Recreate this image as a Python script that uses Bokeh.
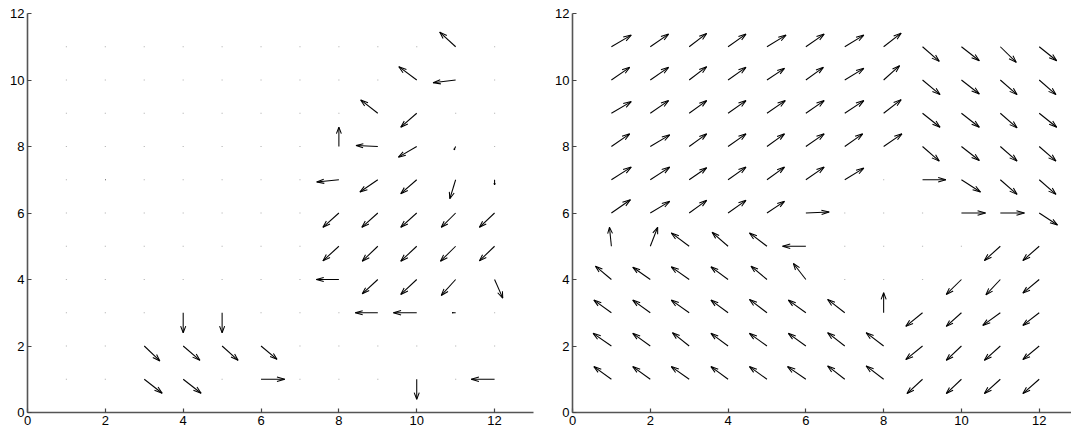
import numpy as np
from bokeh.plotting import figure
from bokeh.layouts import row
from bokeh.models import Range1d, FixedTicker
from bokeh.embed import file_html
from bokeh.resources import INLINE

# grid positions
GX = list(range(1, 13))   # x = 1..12
GY = list(range(1, 12))   # y = 1..11

# ---- left panel vectors: rows y=1..11, columns x=1..12 ----
U_LEFT = [
    [0, 0, 0.46, 0.46, 0, 0.61, 0, 0, 0, 0, 0, -0.60],            # y=1
    [0, 0, 0.40, 0.43, 0.41, 0.41, 0, 0, 0, 0, 0, 0],             # y=2
    [0, 0, 0, 0, 0, 0, 0, 0, -0.58, -0.60, -0.09, 0],             # y=3
    [0, 0, 0, 0, 0, 0, 0, -0.58, -0.40, -0.41, -0.37, 0.21],      # y=4
    [0, 0, 0, 0, 0, 0, 0, -0.41, -0.40, -0.41, -0.39, -0.39],     # y=5
    [0, 0, 0, 0, 0, 0, 0, -0.41, -0.41, -0.41, -0.37, -0.39],     # y=6
    [0, 0.01, 0, 0, 0, 0, 0, -0.57, -0.46, -0.41, -0.15, 0],      # y=7
    [0, 0, 0, 0, 0, 0, 0, 0, -0.56, -0.47, -0.04, 0],             # y=8
    [0, 0, 0, 0, 0, 0, 0, 0, -0.44, -0.41, 0, 0],                 # y=9
    [0, 0, 0, 0, 0, 0, 0, 0, 0, -0.46, -0.58, 0],                 # y=10
    [0, 0, 0, 0, 0, 0, 0, 0, 0, 0, -0.41, 0],                     # y=11
]
V_LEFT = [
    [0, 0, -0.42, -0.42, 0, 0, 0, 0, 0, -0.60, 0, 0],             # y=1
    [0, 0, -0.45, -0.43, -0.43, -0.40, 0, 0, 0, 0, 0, 0],         # y=2
    [0, 0, 0, -0.60, -0.60, 0, 0, 0, 0, 0, 0, 0],                 # y=3
    [0, 0, 0, 0, 0, 0, 0, 0, -0.43, -0.45, -0.48, -0.56],         # y=4
    [0, 0, 0, 0, 0, 0, 0, -0.44, -0.45, -0.45, -0.45, -0.44],     # y=5
    [0, 0, 0, 0, 0, 0, 0, -0.43, -0.43, -0.43, -0.43, -0.43],     # y=6
    [0, 0, 0, 0, 0, 0, 0, -0.07, -0.37, -0.42, -0.57, -0.15],     # y=7
    [0, 0, 0, 0, 0, 0, 0, 0.58, 0.03, -0.32, -0.10, 0],           # y=8
    [0, 0, 0, 0, 0, 0, 0, 0, 0.40, -0.42, 0, 0],                  # y=9
    [0, 0, 0, 0, 0, 0, 0, 0, 0, 0.40, -0.08, 0],                  # y=10
    [0, 0, 0, 0, 0, 0, 0, 0, 0, 0, 0.44, 0],                      # y=11
]

# ---- right panel vectors ----
U_RIGHT = [
    [-0.45, -0.45, -0.46, -0.44, -0.45, -0.47, -0.44, -0.45, -0.40, -0.39, -0.41, -0.42],  # y=1
    [-0.47, -0.45, -0.43, -0.44, -0.45, -0.45, -0.44, -0.45, -0.43, -0.39, -0.41, -0.42],  # y=2
    [-0.45, -0.45, -0.46, -0.44, -0.45, -0.45, -0.44, 0, -0.43, -0.39, -0.45, -0.42],      # y=3
    [-0.41, -0.45, -0.46, -0.44, -0.41, -0.32, 0, 0, 0, -0.39, -0.37, -0.42],              # y=4
    [-0.05, 0.19, -0.46, -0.41, -0.45, -0.60, 0, 0, 0, 0, -0.41, -0.42],                   # y=5
    [0.49, 0.50, 0.45, 0.46, 0.45, 0.60, 0, 0, 0, 0.62, 0.62, 0.47],                       # y=6
    [0.51, 0.50, 0.45, 0.46, 0.45, 0.47, 0.49, 0, 0.60, 0.49, 0.43, 0.43],                 # y=7
    [0.47, 0.50, 0.45, 0.46, 0.45, 0.47, 0.46, 0.47, 0.43, 0.46, 0.43, 0.43],              # y=8
    [0.51, 0.47, 0.45, 0.46, 0.47, 0.47, 0.49, 0.45, 0.45, 0.46, 0.43, 0.45],              # y=9
    [0.47, 0.47, 0.45, 0.46, 0.45, 0.45, 0.49, 0.41, 0.45, 0.46, 0.43, 0.43],              # y=10
    [0.51, 0.47, 0.45, 0.46, 0.49, 0.47, 0.49, 0.45, 0.43, 0.46, 0.41, 0.45],              # y=11
]
V_RIGHT = [
    [0.38, 0.38, 0.38, 0.38, 0.38, 0.38, 0.40, 0.40, -0.43, -0.43, -0.43, -0.43],          # y=1
    [0.38, 0.38, 0.40, 0.38, 0.38, 0.38, 0.40, 0.40, -0.41, -0.43, -0.43, -0.41],          # y=2
    [0.38, 0.38, 0.38, 0.38, 0.40, 0.38, 0.40, 0.60, -0.41, -0.41, -0.38, -0.38],          # y=3
    [0.40, 0.37, 0.38, 0.38, 0.40, 0.48, 0, 0, 0, -0.45, -0.46, -0.41],                    # y=4
    [0.57, 0.57, 0.40, 0.42, 0.40, 0, 0, 0, 0, 0, -0.43, -0.43],                           # y=5
    [0.40, 0.35, 0.38, 0.38, 0.35, 0.03, 0, 0, 0, 0, 0, -0.36],                            # y=6
    [0.38, 0.38, 0.36, 0.38, 0.38, 0.38, 0.35, 0, 0, -0.37, -0.44, -0.44],                 # y=7
    [0.38, 0.35, 0.38, 0.38, 0.38, 0.38, 0.38, 0.38, -0.44, -0.42, -0.44, -0.44],          # y=8
    [0.35, 0.38, 0.38, 0.38, 0.38, 0.38, 0.38, 0.41, -0.42, -0.42, -0.44, -0.42],          # y=9
    [0.38, 0.38, 0.40, 0.38, 0.35, 0.38, 0.35, 0.43, -0.44, -0.42, -0.44, -0.44],          # y=10
    [0.35, 0.38, 0.40, 0.38, 0.35, 0.38, 0.35, 0.41, -0.44, -0.42, -0.47, -0.42],          # y=11
]

TICKS = [0, 2, 4, 6, 8, 10, 12]
FONT = "Liberation Sans"


def quiver_segments(U, V, alpha=0.33, beta=0.33):
    X, Y = np.meshgrid(GX, GY)
    U = np.asarray(U, float)
    V = np.asarray(V, float)
    x, y, u, v = X.ravel(), Y.ravel(), U.ravel(), V.ravel()
    nz = (u != 0) | (v != 0)
    xs, ys = [], []
    for xi, yi, ui, vi in zip(x[nz], y[nz], u[nz], v[nz]):
        xs.append([xi, xi + ui])
        ys.append([yi, yi + vi])
        xs.append([xi + ui - alpha * (ui + beta * vi), xi + ui,
                   xi + ui - alpha * (ui - beta * vi)])
        ys.append([yi + vi - alpha * (vi - beta * ui), yi + vi,
                   yi + vi - alpha * (vi + beta * ui)])
    return xs, ys, x[~nz], y[~nz]


def make_panel(U, V, width, xmax, left_border, right_border):
    p = figure(width=width, height=429, output_backend="svg", toolbar_location=None,
               x_range=Range1d(0, xmax), y_range=Range1d(0, 12),
               min_border_left=left_border, min_border_right=right_border,
               min_border_top=13, min_border_bottom=17)
    p.outline_line_color = None
    p.grid.visible = False
    p.background_fill_color = "white"
    p.border_fill_color = "white"
    for ax in (p.xaxis[0], p.yaxis[0]):
        ax.ticker = FixedTicker(ticks=TICKS)
        ax.minor_tick_line_color = None
        ax.major_tick_in = 4
        ax.major_tick_out = 0
        ax.axis_line_color = "#555555"
        ax.axis_line_width = 1.6
        ax.major_tick_line_color = "#444444"
        ax.major_tick_line_width = 1.2
        ax.major_label_text_font = FONT
        ax.major_label_text_font_size = "13px"
        ax.major_label_text_color = "black"
        ax.major_label_standoff = 3
    xs, ys, zx, zy = quiver_segments(U, V)
    p.scatter(zx, zy, marker="square", size=1.2, color="#b8b8b8", line_color=None)
    p.multi_line(xs, ys, line_color="black", line_width=1.05)
    return p


left = make_panel(U_LEFT, V_LEFT, 548, 13, 27, 15)
right = make_panel(U_RIGHT, V_RIGHT, 523, 12.83, 24, 0)

layout = row(left, right)
open("out.html", "w").write(file_html(layout, INLINE))
